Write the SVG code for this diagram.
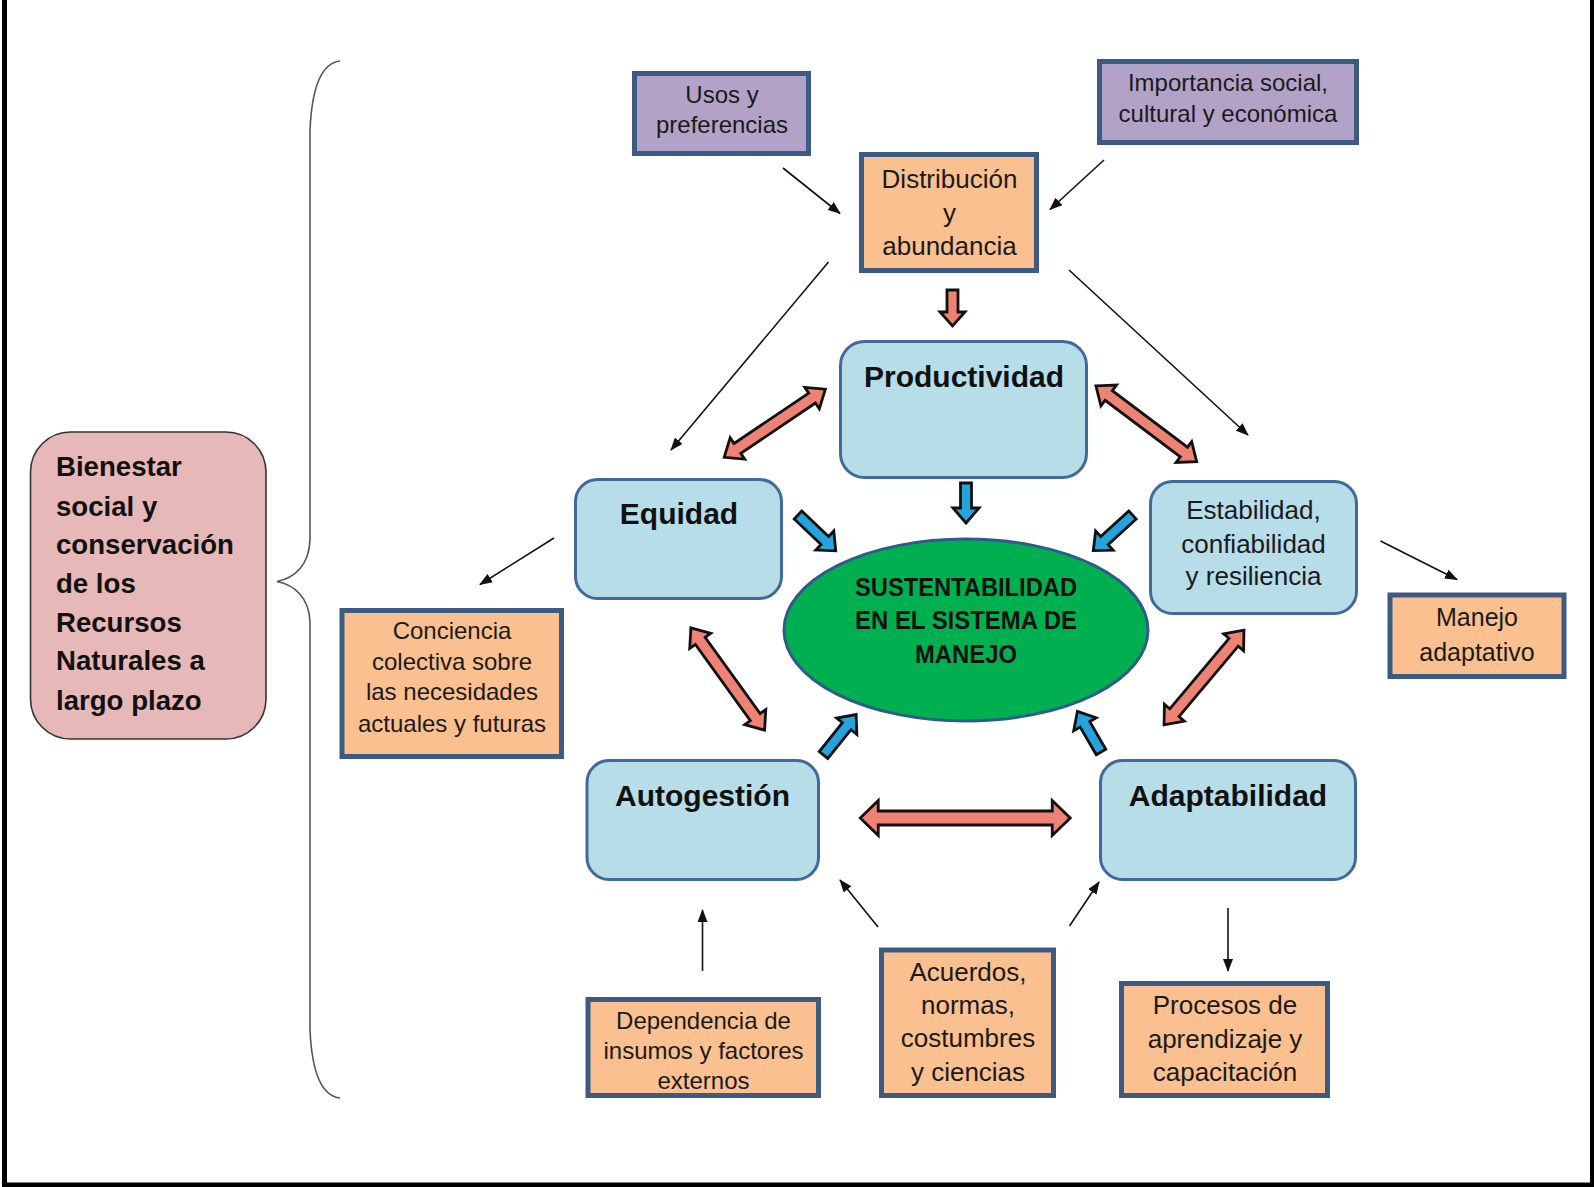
<svg xmlns="http://www.w3.org/2000/svg" width="1594" height="1187" viewBox="0 0 1594 1187">
<defs>
<style>
.sq{stroke:#3D5A82;stroke-width:5}
.pur{fill:#B3A2C7}
.org{fill:#FAC08F}
.lb{fill:#B7DDE8;stroke:#41699A;stroke-width:3}
.t{font-family:"Liberation Sans",Arial,sans-serif;fill:#1a1a1a;text-anchor:middle}
.tb{font-family:"Liberation Sans",Arial,sans-serif;font-weight:bold;fill:#111;text-anchor:middle;font-size:30px}
.thin{stroke:#111;stroke-width:1.6;fill:none;marker-end:url(#ah)}
.red{fill:#EE8274;stroke:#111;stroke-width:2.8;stroke-linejoin:miter}
.blue{fill:#25A3DC;stroke:#111;stroke-width:2.8;stroke-linejoin:miter}
.el{font-family:"Liberation Sans",Arial,sans-serif;font-weight:bold;fill:#111;text-anchor:middle;font-size:25px}
</style>
<marker id="ah" viewBox="0 0 13 10" refX="12" refY="5" markerWidth="13" markerHeight="10" markerUnits="userSpaceOnUse" orient="auto">
<path d="M0,0 L13,5 L0,10 Z" fill="#111"/>
</marker>
</defs>
<rect width="1594" height="1187" fill="#fff"/>
<path d="M4.5,0 V1185 H1592.5 V0" fill="none" stroke="#000" stroke-width="5"/>

<g id="brace">
<path d="M340,61 C322,63 312,85 310,130 L310,540 C309,565 295,578 277,581.5 C295,585 309,598 310,622 L310,1030 C312,1075 322,1096 340,1098" fill="none" stroke="#555" stroke-width="1.6"/>
</g>

<g id="bienestar">
<rect x="30.5" y="432" width="235.5" height="307" rx="40" fill="#E6B8B7" stroke="#333" stroke-width="1.6"/>
<g font-family="'Liberation Sans',Arial,sans-serif" font-weight="bold" font-size="27.6" fill="#111">
<text x="56" y="476">Bienestar</text>
<text x="56" y="516">social y</text>
<text x="56" y="554">conservación</text>
<text x="56" y="593">de los</text>
<text x="56" y="632">Recursos</text>
<text x="56" y="670">Naturales a</text>
<text x="56" y="710">largo plazo</text>
</g>
</g>

<g id="usos">
<rect class="sq pur" x="634.5" y="73.5" width="174" height="80"/>
<text class="t" font-size="24" x="722" y="103">Usos y</text>
<text class="t" font-size="24" x="722" y="132.5">preferencias</text>
</g>

<g id="importancia">
<rect class="sq pur" x="1099.5" y="61.5" width="257" height="81"/>
<text class="t" font-size="24" x="1228" y="90.5">Importancia social,</text>
<text class="t" font-size="24" x="1228" y="121.5">cultural y económica</text>
</g>

<g id="distribucion">
<rect class="sq org" x="861.5" y="154.5" width="175" height="116"/>
<text class="t" font-size="26" x="949.5" y="188">Distribución</text>
<text class="t" font-size="26" x="949.5" y="221.5">y</text>
<text class="t" font-size="26" x="949.5" y="255">abundancia</text>
</g>

<g id="productividad">
<rect class="lb" x="840.5" y="341.5" width="246" height="136" rx="24"/>
<text class="tb" x="964" y="387">Productividad</text>
</g>

<g id="equidad">
<rect class="lb" x="575.5" y="479.5" width="206" height="119" rx="22"/>
<text class="tb" x="679" y="524">Equidad</text>
</g>

<g id="estabilidad">
<rect class="lb" x="1150.5" y="481.5" width="206" height="132" rx="22"/>
<text class="t" font-size="26" x="1253.5" y="519">Estabilidad,</text>
<text class="t" font-size="26" x="1253.5" y="553">confiabilidad</text>
<text class="t" font-size="26" x="1253.5" y="585">y resiliencia</text>
</g>

<g id="sustentabilidad">
<ellipse cx="966" cy="630" rx="182" ry="91" fill="#00B050" stroke="#2E5C8A" stroke-width="3"/>
<text class="el" x="966" y="595.5" textLength="222" lengthAdjust="spacingAndGlyphs">SUSTENTABILIDAD</text>
<text class="el" x="966" y="629" textLength="222" lengthAdjust="spacingAndGlyphs">EN EL SISTEMA DE</text>
<text class="el" x="966" y="662.5" textLength="102" lengthAdjust="spacingAndGlyphs">MANEJO</text>
</g>

<g id="conciencia">
<rect class="sq org" x="342" y="610.5" width="219.5" height="146"/>
<text class="t" font-size="24" x="452" y="638.5">Conciencia</text>
<text class="t" font-size="24" x="452" y="669.5">colectiva sobre</text>
<text class="t" font-size="24" x="452" y="699.5">las necesidades</text>
<text class="t" font-size="24" x="452" y="731.5">actuales y futuras</text>
</g>

<g id="manejo">
<rect class="sq org" x="1390" y="595" width="174" height="81.5"/>
<text class="t" font-size="25" x="1477" y="626">Manejo</text>
<text class="t" font-size="25" x="1477" y="660.5">adaptativo</text>
</g>

<g id="autogestion">
<rect class="lb" x="587" y="760.5" width="231.5" height="119" rx="22"/>
<text class="tb" x="702.5" y="806">Autogestión</text>
</g>

<g id="adaptabilidad">
<rect class="lb" x="1100.5" y="760.5" width="255" height="119" rx="22"/>
<text class="tb" x="1228" y="806">Adaptabilidad</text>
</g>

<g id="dependencia">
<rect class="sq org" x="588" y="999.5" width="230.5" height="96"/>
<text class="t" font-size="24" x="703.5" y="1028.5">Dependencia de</text>
<text class="t" font-size="24" x="703.5" y="1058.5">insumos y factores</text>
<text class="t" font-size="24" x="703.5" y="1089">externos</text>
</g>

<g id="acuerdos">
<rect class="sq org" x="881.5" y="950" width="172" height="145.5"/>
<text class="t" font-size="26" x="968" y="981">Acuerdos,</text>
<text class="t" font-size="26" x="968" y="1014">normas,</text>
<text class="t" font-size="26" x="968" y="1047">costumbres</text>
<text class="t" font-size="26" x="968" y="1080.5">y ciencias</text>
</g>

<g id="procesos">
<rect class="sq org" x="1121.5" y="983.5" width="206" height="112"/>
<text class="t" font-size="26" x="1225" y="1014">Procesos de</text>
<text class="t" font-size="26" x="1225" y="1048">aprendizaje y</text>
<text class="t" font-size="26" x="1225" y="1080.5">capacitación</text>
</g>

<g id="connectors">
<line class="thin" x1="783" y1="168" x2="840" y2="213.5"/>
<line class="thin" x1="1104" y1="160" x2="1050" y2="209.5"/>
<line class="thin" x1="828.5" y1="262" x2="671" y2="450"/>
<line class="thin" x1="1069" y1="270" x2="1248" y2="435"/>
<line class="thin" x1="554" y1="538" x2="480" y2="584.5"/>
<line class="thin" x1="1380.5" y1="541" x2="1457" y2="579.5"/>
<line class="thin" x1="702.5" y1="971" x2="702.5" y2="910"/>
<line class="thin" x1="878" y1="927" x2="840" y2="880"/>
<line class="thin" x1="1069.5" y1="926" x2="1099" y2="882"/>
<line class="thin" x1="1228" y1="908" x2="1228" y2="971"/>

<path class="red" transform="translate(952.5,290) rotate(90)" d="M0,-5.5 L22,-5.5 L22,-12.5 L36,0 L22,12.5 L22,5.5 L0,5.5 Z"/>
<path class="red" transform="translate(774.75,423.25) rotate(-34)" d="M-61,0 L-45,-13 L-45,-6 L45,-6 L45,-13 L61,0 L45,13 L45,6 L-45,6 L-45,13 Z"/>
<path class="red" transform="translate(1146.3,423.75) rotate(36.9)" d="M-63,0 L-47,-13 L-47,-6 L47,-6 L47,-13 L63,0 L47,13 L47,6 L-47,6 L-47,13 Z"/>
<path class="red" transform="translate(727.75,679) rotate(54.2)" d="M-63,0 L-47,-13 L-47,-6 L47,-6 L47,-13 L63,0 L47,13 L47,6 L-47,6 L-47,13 Z"/>
<path class="red" transform="translate(1204,677.5) rotate(130.1)" d="M-62,0 L-46,-13 L-46,-6 L46,-6 L46,-13 L62,0 L46,13 L46,6 L-46,6 L-46,13 Z"/>
<path class="red" transform="translate(965.25,818)" d="M-105,0 L-87,-17.5 L-87,-7 L87,-7 L87,-17.5 L105,0 L87,17.5 L87,7 L-87,7 L-87,17.5 Z"/>

<path class="blue" transform="translate(966,483) rotate(90)" d="M0,-5.5 L25,-5.5 L25,-13 L40,0 L25,13 L25,5.5 L0,5.5 Z"/>
<path class="blue" transform="translate(798,515) rotate(43.5)" d="M0,-5.5 L37,-5.5 L37,-13 L52,0 L37,13 L37,5.5 L0,5.5 Z"/>
<path class="blue" transform="translate(1132.5,515) rotate(137.7)" d="M0,-5.5 L38,-5.5 L38,-13 L53,0 L38,13 L38,5.5 L0,5.5 Z"/>
<path class="blue" transform="translate(823.5,755) rotate(-51.1)" d="M0,-5.5 L37,-5.5 L37,-13 L52,0 L37,13 L37,5.5 L0,5.5 Z"/>
<path class="blue" transform="translate(1101,752) rotate(-120.1)" d="M0,-5.5 L32,-5.5 L32,-13 L47,0 L32,13 L32,5.5 L0,5.5 Z"/>
</g>
</svg>
